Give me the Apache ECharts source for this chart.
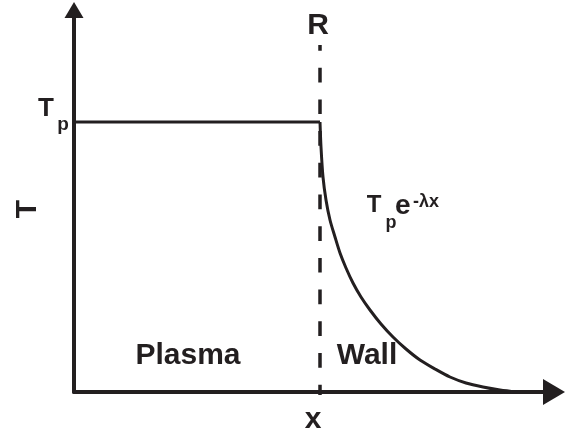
<!DOCTYPE html>
<html>
<head>
<meta charset="utf-8">
<script src="https://cdn.jsdelivr.net/npm/echarts@6/dist/echarts.min.js"></script>
<style>
  html, body { margin: 0; padding: 0; background: #fff; }
  #chart { width: 574px; height: 437px; }
</style>
</head>
<body>
<div id="chart"></div>
<script>
// schematic units: distance from the origin of the axes
const plateau_x = [0, 246];
const plateau_t = [270, 270];

// decay into the wall, T = Tp e^-λx
const wall_x = [246, 247, 249, 252, 256, 261, 266, 272, 279, 287, 296, 307, 319, 332, 346, 361, 376, 392, 409, 426, 443];
const wall_t = [270, 245, 215, 192, 172, 155, 139, 124, 109, 95, 82, 68, 55, 43, 32, 23, 15, 9, 5, 2, 0];

// boundary R
const r_x = [246, 246];
const r_t = [347, -3];

const ink = "#231f20";
const font = "Liberation Sans, Arial, sans-serif";

const zip = (xs, ys) => xs.map((x, i) => [x, ys[i]]);

const chart = echarts.init(document.getElementById("chart"));

// small helper for the text pieces
const txt = (text, x, y, size, extra) => ({
  type: "text",
  x: x,
  y: y,
  style: Object.assign({
    text: text,
    fill: ink,
    font: "bold " + size + "px " + font,
    align: "center",
    verticalAlign: "middle",
  }, extra && extra.style),
  rotation: extra && extra.rotation ? extra.rotation : 0,
});

chart.setOption({
  backgroundColor: "#fff",
  animation: false,
  // arrow heads sit centred on the axis ends
  grid: { left: 74, top: 10, width: 480, height: 382, containLabel: false },
  xAxis: {
    type: "value",
    min: 0,
    max: 480,
    axisLine: {
      show: true,
      symbol: ["none", "triangle"],
      symbolSize: [26, 22],
      lineStyle: { color: ink, width: 4 },
    },
    axisTick: { show: false },
    axisLabel: { show: false },
    splitLine: { show: false },
  },
  yAxis: {
    type: "value",
    min: 0,
    max: 382,
    axisLine: {
      show: true,
      symbol: ["none", "triangle"],
      symbolSize: [19, 16],
      lineStyle: { color: ink, width: 4 },
    },
    axisTick: { show: false },
    axisLabel: { show: false },
    splitLine: { show: false },
  },
  series: [
    {
      name: "Plasma",
      type: "line",
      data: zip(plateau_x, plateau_t),
      showSymbol: false,
      lineStyle: { color: ink, width: 3 },
    },
    {
      name: "Wall",
      type: "line",
      data: zip(wall_x, wall_t),
      smooth: 0.3,
      showSymbol: false,
      lineStyle: { color: ink, width: 3 },
    },
    {
      name: "R",
      type: "line",
      data: zip(r_x, r_t),
      clip: false,
      showSymbol: false,
      lineStyle: { color: ink, width: 3.5, type: [14.7, 17], dashOffset: 9 },
    },
  ],
  graphic: [
    txt("R", 318, 26, 30),
    txt("T", 46, 109, 26),
    txt("p", 63, 125, 19),
    txt("T", 28, 209, 30, { rotation: Math.PI / 2 }),
    txt("x", 313, 420, 30),
    txt("Plasma", 188, 356, 30),
    txt("Wall", 367, 356, 30),
    txt("T", 374, 205, 24),
    txt("p", 391, 223, 18),
    txt("e", 395, 206, 28, { style: { align: "left" } }),
    txt("-λx", 413, 202, 18, { style: { align: "left" } }),
  ],
});
</script>
</body>
</html>
